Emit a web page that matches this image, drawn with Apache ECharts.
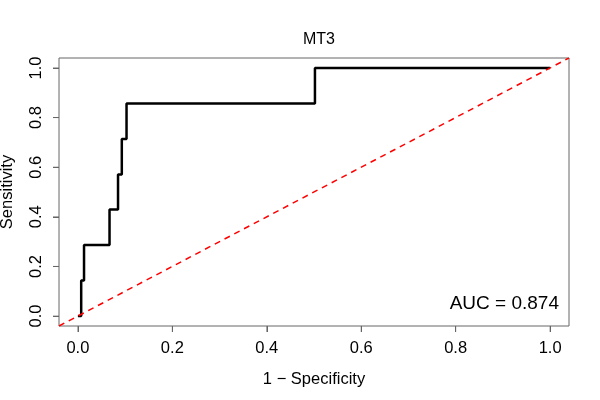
<!DOCTYPE html>
<html>
<head>
<meta charset="UTF-8">
<title>MT3</title>
<style>
  html, body { margin: 0; padding: 0; background: #fff; }
  #roc { width: 600px; height: 400px; }
</style>
</head>
<body>
<div id="roc"></div>
<script src="https://cdn.jsdelivr.net/npm/echarts@6/dist/echarts.min.js"></script>
<script>
// ROC curve vertices (1 - specificity, sensitivity)
var fpr = [0, 0.007, 0.007, 0.013, 0.013, 0.067, 0.067, 0.085, 0.085, 0.093, 0.093, 0.103, 0.103, 0.502, 0.502, 1.0];
var tpr = [0, 0, 0.143, 0.143, 0.286, 0.286, 0.429, 0.429, 0.571, 0.571, 0.714, 0.714, 0.857, 0.857, 1.0, 1.0];
// reference diagonal, drawn across the whole box
var diagX = [-0.04, 1.04];
var diagY = [-0.04, 1.04];
var ticks = [0, 0.2, 0.4, 0.6, 0.8, 1.0];
var aucText = 'AUC = 0.874';

var font = 'Liberation Sans, Arial, Helvetica, sans-serif';
var frame = '#666';

// plot box in px, and the 4% padding R adds around [0, 1]
var box = { left: 59, right: 31, top: 58, bottom: 74 };
var pad = 0.04;
var boxW = 600 - box.left - box.right;
var boxH = 400 - box.top - box.bottom;
var padX = boxW * pad / (1 + 2 * pad);
var padY = boxH * pad / (1 + 2 * pad);

function pairs(xs, ys) {
  return xs.map(function (x, i) { return [x, ys[i]]; });
}

function tickAxis(extra) {
  var ax = {
    type: 'value', min: 0, max: 1, interval: 0.2, gridIndex: 1,
    nameLocation: 'middle',
    nameTextStyle: { fontFamily: font, fontSize: 16.5, color: '#000' },
    axisLine: { show: false, onZero: false },
    splitLine: { show: false },
    axisTick: { show: true, length: 6, lineStyle: { color: frame, width: 1 } },
    axisLabel: {
      margin: 14, fontFamily: font, fontSize: 16.5, color: '#000',
      formatter: function (v) { return v.toFixed(1); }
    }
  };
  for (var k in extra) {
    if (k === 'axisLabel') { for (var j in extra[k]) ax.axisLabel[j] = extra[k][j]; }
    else ax[k] = extra[k];
  }
  return ax;
}

// tick marks on the box edges, placed by the axis scale
var xTickMarks = ticks.map(function (t) { return [t, -pad]; });
var yTickMarks = ticks.map(function (t) { return [-pad, t]; });

var chart = echarts.init(document.getElementById('roc'));
chart.setOption({
  animation: false,
  title: {
    text: 'MT3',
    left: 314,
    top: 27,
    textAlign: 'center',
    textStyle: { fontFamily: font, fontSize: 16, fontWeight: 'normal', color: '#000' }
  },
  grid: [{
    left: box.left, right: box.right, top: box.top, bottom: box.bottom,
    outerBoundsMode: 'none', containLabel: false,
    show: true, borderColor: frame, borderWidth: 1, backgroundColor: 'transparent'
  }, {
    // inner [0, 1] region, only used to place labels
    left: box.left + padX, right: box.right + padX,
    top: box.top + padY, bottom: box.bottom + padY,
    outerBoundsMode: 'none', containLabel: false
  }],
  xAxis: [{
    type: 'value', min: -pad, max: 1 + pad, gridIndex: 0, show: false
  }, tickAxis({
    position: 'bottom', offset: padY,
    name: '1 \u2212 Specificity', nameGap: 45
  })],
  yAxis: [{
    type: 'value', min: -pad, max: 1 + pad, gridIndex: 0, show: false
  }, tickAxis({
    position: 'left', offset: padX,
    name: 'Sensitivity', nameGap: 43, nameRotate: 90,
    axisLabel: { rotate: 90 }
  })],
  graphic: [{
    type: 'text',
    right: 41,
    top: 294,
    style: { text: aucText, font: '19px ' + font, fill: '#000' }
  }],
  series: [{
    type: 'line',
    xAxisIndex: 0, yAxisIndex: 0,
    data: pairs(fpr, tpr),
    showSymbol: false,
    lineStyle: { color: '#000', width: 2.5 },
    z: 3
  }, {
    type: 'line',
    xAxisIndex: 0, yAxisIndex: 0,
    data: pairs(diagX, diagY),
    showSymbol: false,
    lineStyle: { color: '#ff0000', width: 1.5, type: [6, 5] },
    z: 4
  }, {
    type: 'scatter',
    xAxisIndex: 0, yAxisIndex: 0,
    data: xTickMarks,
    symbol: 'rect', symbolSize: [1, 6], symbolOffset: [0, 3],
    itemStyle: { color: frame },
    clip: false, silent: true
  }, {
    type: 'scatter',
    xAxisIndex: 0, yAxisIndex: 0,
    data: yTickMarks,
    symbol: 'rect', symbolSize: [6, 1], symbolOffset: [-3, 0],
    itemStyle: { color: frame },
    clip: false, silent: true
  }]
});
</script>
</body>
</html>
